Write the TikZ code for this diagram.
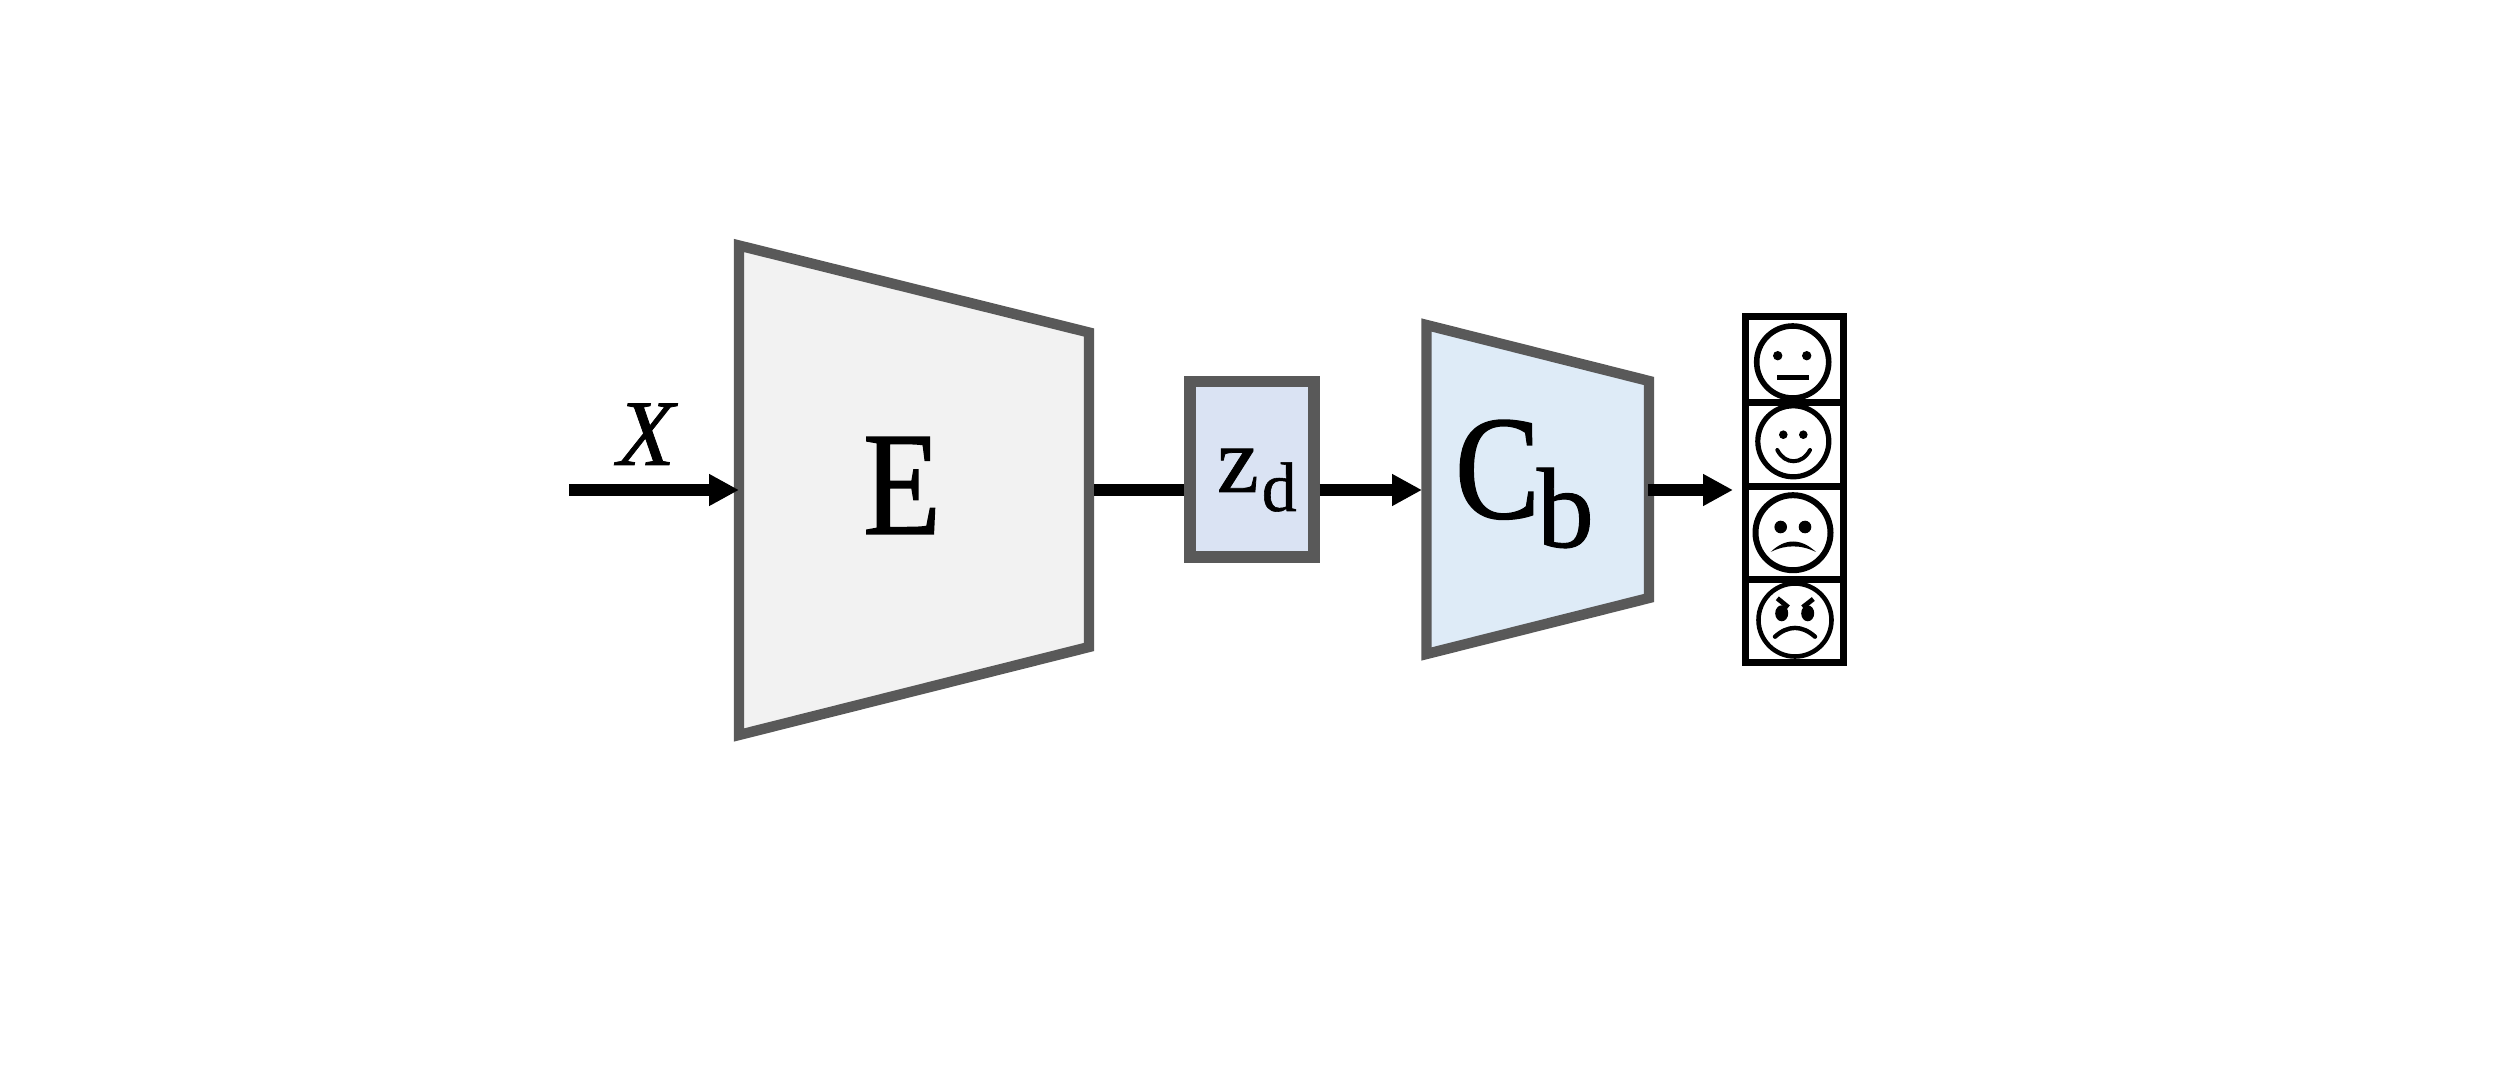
\documentclass[tikz,border=0pt]{standalone}
\usepackage{fontspec}
\setmainfont{Liberation Serif}
\newfontfamily\heavyfont[FakeBold=0.8]{Liberation Serif}
\newfontfamily\heavynarrow[FakeBold=1.0,FakeStretch=0.86]{Liberation Serif}
\usetikzlibrary{arrows.meta}
\tikzset{
  block/.style={draw=blockgrey,line width=5.2pt,miter limit=10,line join=miter},
  conn/.style={line width=5.6pt,draw=black},
  arrowconn/.style={conn,-{Triangle[length=15pt,width=15pt]}},
  cell/.style={draw=black,line width=3.5pt,fill=white,minimum width=49pt,inner sep=0pt,outer sep=0pt},
  label/.style={inner sep=0pt,outer sep=0pt,text=black},
  facering/.style={draw=black,line width=2.8pt,fill=none},
  facefeature/.style={fill=black,draw=none},
  mouth/.style={draw=black,line width=2.2pt,line cap=round,fill=none}
}
\definecolor{blockgrey}{HTML}{595959}
\definecolor{encfill}{HTML}{F2F2F2}
\definecolor{zfill}{HTML}{DAE3F3}
\definecolor{clsfill}{HTML}{DEEBF7}
\begin{document}
\begin{tikzpicture}[x=0.5pt,y=-0.5pt]
\useasboundingbox (0,0) rectangle (2508,1069);
% encoder
\draw[block,fill=encfill] (739,245.5) -- (1089,332.5) -- (1089,647) -- (739,735) -- cycle;
\coordinate (xstart) at (569,490);
\coordinate (Ein) at (739,490);
\coordinate (Eout) at (1094,490);
% latent
\node[block,line width=5.6pt,fill=zfill,minimum width=62pt,minimum height=87.75pt,inner sep=0pt,outer sep=2.8pt] (zd) at (1252,469.25) {};
% classifier
\draw[block,fill=clsfill] (1426.5,325) -- (1649,381) -- (1649,598) -- (1426.5,654) -- cycle;
\coordinate (Cin) at (1422,490);
\coordinate (Cout) at (1648,490);
\coordinate (Oend) at (1733,490);
% labels
\node[label,anchor=base] (xlabel) at (646,465) {\fontsize{47}{47}\selectfont\heavyfont\itshape X};
\node[label,anchor=base] (elabel) at (902,534) {\fontsize{74}{74}\selectfont\heavynarrow E};
\node[label,anchor=base west] (zlabel) at (1217,492) {\fontsize{47}{47}\selectfont\heavyfont z\hspace{1.5pt}\raisebox{-9.5pt}{\fontsize{35}{35}\selectfont d}};
\node[label,anchor=base west] (clabel) at (1455,518) {\fontsize{74}{74}\selectfont\heavynarrow C\raisebox{-14.5pt}{\fontsize{57}{57}\selectfont\heavyfont\hspace{-1.5pt}b}};
% connectors
\draw[arrowconn] (xstart) -- (Ein);
\draw[conn] (Eout) -- (Eout -| zd.west);
\draw[arrowconn] (Cin -| zd.east) -- (Cin);
\draw[arrowconn] (Cout) -- (Oend);
% output cells
\node[cell,minimum height=43pt] (c1) at (1794.5,359.5) {};
\node[cell,minimum height=42pt] (c2) at (1794.5,444.5) {};
\node[cell,minimum height=46.5pt] (c3) at (1794.5,533) {};
\node[cell,minimum height=41.5pt] (c4) at (1794.5,621) {};
% neutral
\draw[facering] (1792.7,362) circle[radius=36];
\fill[facefeature] (1777.7,355.7) circle[radius=4.7] (1806.7,355.7) circle[radius=4.7];
\draw[black,line width=2.2pt] (1777,377.7) -- (1809,377.7);
% happy
\draw[facering,line width=2.6pt] (1793.3,441.3) circle[radius=35.5];
\fill[facefeature] (1783.3,434.7) circle[radius=4.3] (1803.3,434.7) circle[radius=4.3];
\draw[mouth,line width=2pt] (1777.3,450) .. controls (1785,465) and (1802,465) .. (1810,450);
% sad
\draw[facering,line width=3pt] (1793,532.7) circle[radius=37.5];
\fill[facefeature] (1780.7,527) circle[radius=6.3] (1805,527) circle[radius=6.3];
\fill[facefeature] (1770.7,552) .. controls (1785,538) and (1801,538) .. (1816,552) .. controls (1801,544.5) and (1785,544.5) .. cycle;
% angry
\draw[facering,line width=2.3pt] (1795,620) circle[radius=36.5];
\fill[facefeature] (1781.7,613.3) ellipse[x radius=6.5,y radius=8] (1807.7,613.3) ellipse[x radius=6.5,y radius=8];
\draw[black,line width=2.4pt] (1777.3,598.3) -- (1788.3,607.3) (1813.3,599) -- (1802.7,607.3);
\draw[mouth] (1775,636.7) .. controls (1788,625) and (1802,625) .. (1815,636.7);
\end{tikzpicture}
\end{document}
